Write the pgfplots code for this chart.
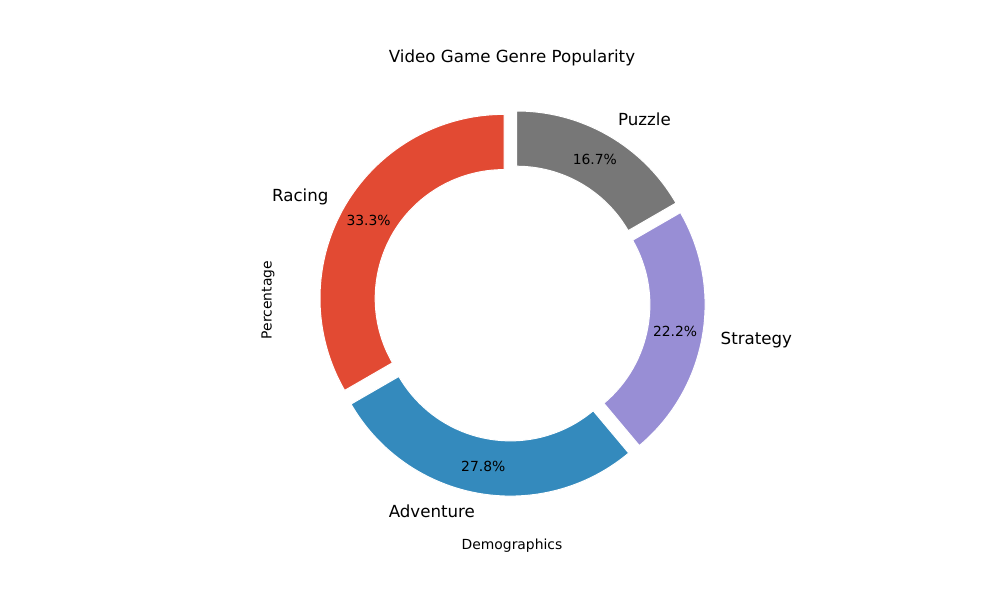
\documentclass[border=0pt]{standalone}
\usepackage{pgfplots}
\pgfplotsset{compat=1.18}
\usepackage{fontspec}
\setmainfont{DejaVu Sans}
\definecolor{racing}{HTML}{E24A33}
\definecolor{adventure}{HTML}{348ABD}
\definecolor{strategy}{HTML}{988ED5}
\definecolor{puzzle}{HTML}{777777}
\begin{document}
\begin{tikzpicture}
\useasboundingbox (-204.48pt,-51.84pt) rectangle (515.52pt,380.16pt);
\begin{axis}[scale only axis, width=328.32pt, height=328.32pt,
  xmin=-1.2, xmax=1.2, ymin=-1.2, ymax=1.2, hide axis, clip=false]
\pgfplotsextra{
  \def\R{132.5pt}\def\r{92.75pt}
  \foreach \v/\c/\lab [remember=\e as \s (initially 90)] in
     {6/racing/Racing, 5/adventure/Adventure, 4/strategy/Strategy, 3/puzzle/Puzzle} {
    \pgfmathsetmacro\e{\s+\v/18*360}
    \pgfmathsetmacro\m{(\s+\e)/2}
    \pgfmathsetmacro\pct{\v/18*100}
    \pgfmathsetmacro\cx{cos(\m)}
    \pgfmathparse{\cx>0 ? "west" : "east"}\edef\anc{\pgfmathresult}
    \begin{scope}[shift={(axis cs:0,0)}, yshift=-2.16pt]
    \begin{scope}[shift={(\m:6.625pt)}]
      \fill[\c, draw=white, line width=0.72pt]
        (\s:\R) arc[start angle=\s, end angle=\e, radius=\R]
        -- (\e:\r) arc[start angle=\e, end angle=\s, radius=\r] -- cycle;
      \node[anchor=\anc, font=\fontsize{12pt}{14pt}\selectfont, inner sep=0pt]
        at (\m:1.1*\R) {\lab};
      \node[font=\fontsize{10pt}{12pt}\selectfont, inner sep=0pt]
        at (\m:0.85*\R) {\pgfmathprintnumber[fixed, precision=1, fixed zerofill, assume math mode=true]{\pct}\%};
    \end{scope}
    \end{scope}
  }
}
\end{axis}
\node[font=\fontsize{12pt}{14pt}\selectfont] at (164.16pt,338.4pt) {Video Game Genre Popularity};
\node[font=\fontsize{10pt}{12pt}\selectfont] at (164.16pt,-12.96pt) {Demographics};
\node[font=\fontsize{10pt}{12pt}\selectfont, rotate=90] at (-11.5pt,164.16pt) {Percentage};
\end{tikzpicture}
\end{document}
